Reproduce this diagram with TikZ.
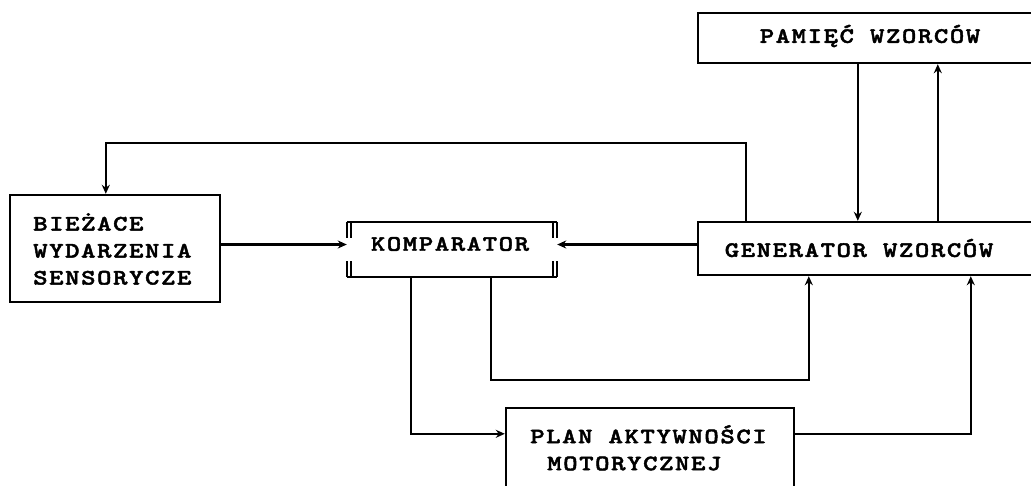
\documentclass[tikz,border=0pt]{standalone}
\usepackage{fontspec}
\newfontfamily\dotfont[LetterSpace=7,FakeStretch=1.25,FakeBold=2]{lmmonolt10-bold.otf}
\usetikzlibrary{arrows.meta}

\tikzset{
  box/.style={draw, line width=2.4pt, rectangle, inner sep=0pt},
  frame/.style={rectangle, inner sep=0pt},
  txt/.style={font=\dotfont\fontsize{22}{27}\selectfont, inner sep=0pt, align=left},
  wire/.style={line width=2.4pt},
  arr/.style={wire, -{Stealth[length=9pt,width=8pt]}}
}

\begin{document}
\begin{tikzpicture}[x=1pt,y=-1pt]
  \clip (0,0) rectangle (1031,485);
  \fill[white] (0,0) rectangle (1031,485);

  % boxes
  \node[box, minimum width=347pt, minimum height=50pt] (mem) at (871.5,38) {};
  \node[box, minimum width=347pt, minimum height=53pt] (gen) at (871.5,248.5) {};
  \node[box, minimum width=210pt, minimum height=107pt] (src) at (115,248.5) {};
  \node[frame, minimum width=210pt, minimum height=55pt] (kom) at (452,249.5) {};
  \node[box, minimum width=288pt, minimum height=100pt] (plan) at (650,458) {};

  % comparator outline with doubled side bars
  \draw[wire] (kom.north west) -- (kom.north east);
  \draw[wire] (kom.south west) -- (kom.south east);
  \foreach \dx in {0,4} {
    \draw[wire] ([xshift=\dx pt]kom.north west) -- ++(0,16);
    \draw[wire] ([xshift=\dx pt]kom.south west) -- ++(0,-16);
    \draw[wire] ([xshift=-\dx pt]kom.north east) -- ++(0,16);
    \draw[wire] ([xshift=-\dx pt]kom.south east) -- ++(0,-16);
  }

  % labels
  \node[txt] (memT) at (870,36) {PAMIĘĆ WZORCÓW};
  \node[txt] (genT) at (859,248) {GENERATOR WZORCÓW};
  \node[txt, anchor=west] (srcT) at (33,249) {BIEŻACE\\WYDARZENIA\\SENSORYCZE};
  \node[txt] (komT) at (450,244) {KOMPARATOR};
  \node[txt, anchor=north west] (planT) at (530,425) {PLAN AKTYWNOŚCI\\\hspace{17pt}MOTORYCZNEJ};

  % connectors
  \draw[arr] ([xshift=49pt]gen.north west) -- ++(0,-78) -| ([xshift=97pt]src.north west);
  \draw[arr] ([xshift=161pt]mem.south west) -- ([xshift=161pt]gen.north west);
  \draw[arr] ([xshift=241pt]gen.north west) -- ([xshift=241pt]mem.south west);
  \draw[arr] ([yshift=4pt]src.east) -- ([yshift=4pt]src.east -| kom.west);
  \draw[arr] ([yshift=4pt]gen.west) -- ([yshift=4pt]gen.west -| kom.east);
  \draw[arr] ([xshift=144pt]kom.south west) -- ++(0,103) -| ([xshift=112pt]gen.south west);
  \draw[arr] ([xshift=64pt]kom.south west) |- ([yshift=-27pt]plan.north west);
  \draw[arr] ([yshift=-27pt]plan.north east) -| ([xshift=274pt]gen.south west);
\end{tikzpicture}
\end{document}
